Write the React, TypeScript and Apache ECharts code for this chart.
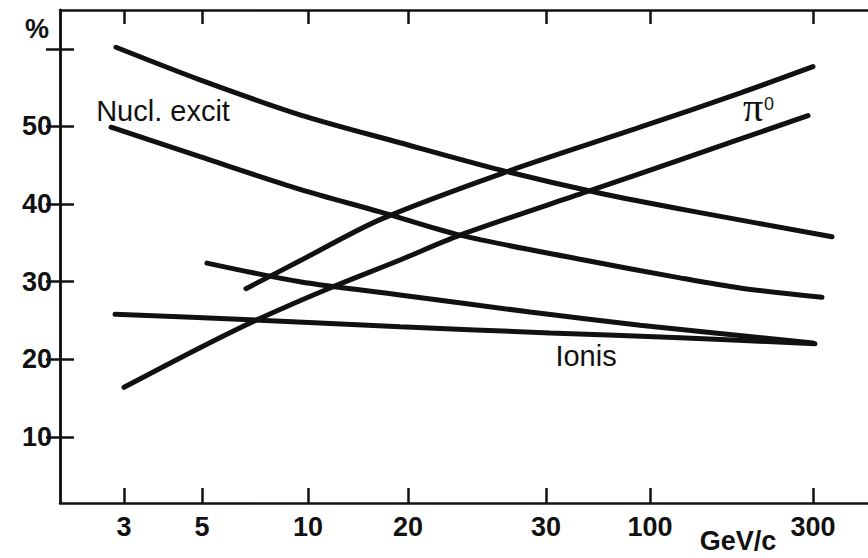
import React, { useEffect, useRef } from "react";
import * as echarts from "echarts";

// X axis: the figure's momentum axis (GeV/c) is drawn on a non-uniform scale;
// positions are expressed in axis units 0..100 across the frame.
const tickLabels = ["3", "5", "10", "20", "30", "100", "300"];
const tickPositions = [7.84, 17.4, 30.39, 42.65, 59.56, 72.3, 92.28];

const yTickValues = [10, 20, 30, 40, 50, 60];
const yLabelValues = [10, 20, 30, 40, 50];

// Nuclear excitation (upper curve)
const nuclUpperX = [6.86, 17.16, 29.41, 41.67, 53.92, 66.18, 78.43, 94.61];
const nuclUpperY = [60.2, 56.0, 51.5, 47.9, 44.4, 41.4, 38.9, 35.8];

// Nuclear excitation (lower curve)
const nuclLowerX = [6.25, 17.16, 29.41, 39.22, 49.02, 63.73, 75.98, 83.33, 93.38];
const nuclLowerY = [49.9, 46.1, 41.9, 39.0, 36.0, 32.9, 30.5, 29.2, 28.0];

// Middle descending curve (from 5 GeV/c)
const midX = [18.01, 29.41, 41.67, 57.6, 71.08, 92.28];
const midY = [32.4, 30.0, 28.3, 26.1, 24.4, 22.1];

// Ionisation
const ionisX = [6.74, 23.28, 41.67, 60.05, 75.98, 92.52];
const ionisY = [25.8, 25.1, 24.2, 23.4, 22.8, 22.0];

// pi0 (upper curve)
const pi0UpperX = [22.79, 29.41, 39.22, 54.29, 71.08, 83.33, 92.28];
const pi0UpperY = [29.1, 32.7, 38.0, 44.0, 49.9, 54.3, 57.7];

// pi0 (lower curve)
const pi0LowerX = [7.84, 17.16, 24.14, 33.09, 41.67, 49.02, 64.58, 75.98, 91.67];
const pi0LowerY = [16.4, 21.5, 25.1, 29.2, 32.8, 36.0, 41.6, 45.7, 51.4];

const curves: { name: string; x: number[]; y: number[] }[] = [
  { name: "Nucl. excit (upper)", x: nuclUpperX, y: nuclUpperY },
  { name: "Nucl. excit (lower)", x: nuclLowerX, y: nuclLowerY },
  { name: "Middle", x: midX, y: midY },
  { name: "Ionis", x: ionisX, y: ionisY },
  { name: "π0 (upper)", x: pi0UpperX, y: pi0UpperY },
  { name: "π0 (lower)", x: pi0LowerX, y: pi0LowerY },
];

const INK = "#111";
const SANS = "'Liberation Sans', Arial, Helvetica, sans-serif";

export default function App() {
  const ref = useRef<HTMLDivElement>(null);

  useEffect(() => {
    if (!ref.current) return;
    const chart = echarts.init(ref.current, null, { renderer: "svg" });

    const axisLine = { show: true, lineStyle: { color: INK, width: 2.5 } };
    const tickStyle = { color: INK, width: 2.5 };

    const xLabelFor = (v: number) => {
      const i = tickPositions.findIndex((p) => Math.abs(p - v) < 1e-6);
      return i >= 0 ? tickLabels[i] : "";
    };

    chart.setOption({
      animation: false,
      backgroundColor: "#fff",
      grid: {
        left: 60,
        right: -8,
        top: 10,
        bottom: 55,
        containLabel: false,
        outerBoundsMode: "none",
      },
      xAxis: [
        {
          type: "value",
          position: "bottom",
          min: 0,
          max: 100,
          axisLine,
          splitLine: { show: false },
          axisTick: {
            show: true,
            inside: true,
            length: 15,
            lineStyle: tickStyle,
            customValues: tickPositions,
          },
          axisLabel: {
            show: true,
            margin: 10,
            customValues: tickPositions,
            formatter: (v: number) => xLabelFor(v),
            color: INK,
            fontSize: 27,
            fontWeight: "bold",
            fontFamily: SANS,
          },
        },
        {
          type: "value",
          position: "top",
          min: 0,
          max: 100,
          axisLine,
          splitLine: { show: false },
          axisTick: {
            show: true,
            inside: true,
            length: 14,
            lineStyle: tickStyle,
            customValues: tickPositions,
          },
          axisLabel: { show: false },
        },
      ],
      yAxis: [
        {
          type: "value",
          position: "left",
          min: 1.5,
          max: 65,
          axisLine,
          splitLine: { show: false },
          axisTick: {
            show: true,
            inside: true,
            length: 14,
            lineStyle: tickStyle,
            customValues: yTickValues,
          },
          axisLabel: {
            show: true,
            margin: 8,
            customValues: yLabelValues,
            color: INK,
            fontSize: 27,
            fontWeight: "bold",
            fontFamily: SANS,
          },
        },
        {
          type: "value",
          position: "right",
          min: 1.5,
          max: 65,
          axisLine,
          splitLine: { show: false },
          axisTick: {
            show: true,
            inside: true,
            length: 14,
            lineStyle: tickStyle,
            customValues: yTickValues,
          },
          axisLabel: { show: false },
        },
      ],
      series: curves.map((c) => ({
        type: "line",
        name: c.name,
        xAxisIndex: 0,
        yAxisIndex: 0,
        data: c.x.map((v, i) => [v, c.y[i]]),
        smooth: 0.3,
        showSymbol: false,
        silent: true,
        lineStyle: { color: INK, width: 5, cap: "round" },
      })),
      graphic: [
        {
          type: "text",
          x: 37,
          y: 29,
          style: {
            text: "%",
            align: "center",
            verticalAlign: "middle",
            fontSize: 27,
            fontWeight: "bold",
            fontFamily: SANS,
            fill: INK,
          },
        },
        {
          type: "text",
          x: 163,
          y: 111,
          style: {
            text: "Nucl. excit",
            align: "center",
            verticalAlign: "middle",
            fontSize: 29,
            fontFamily: SANS,
            fill: INK,
          },
        },
        {
          type: "text",
          x: 586,
          y: 356,
          style: {
            text: "Ionis",
            align: "center",
            verticalAlign: "middle",
            fontSize: 29,
            fontFamily: SANS,
            fill: INK,
          },
        },
        {
          type: "text",
          x: 753,
          y: 107,
          style: {
            text: "π",
            align: "center",
            verticalAlign: "middle",
            fontSize: 40,
            fontFamily: "'Liberation Serif', 'DejaVu Serif', serif",
            fill: INK,
          },
        },
        {
          type: "text",
          x: 769,
          y: 104,
          style: {
            text: "0",
            align: "center",
            verticalAlign: "middle",
            fontSize: 18,
            fontFamily: SANS,
            fill: INK,
          },
        },
        {
          type: "text",
          x: 738,
          y: 541,
          style: {
            text: "GeV/c",
            align: "center",
            verticalAlign: "middle",
            fontSize: 27,
            fontWeight: "bold",
            fontFamily: SANS,
            fill: INK,
          },
        },
      ],
    });

    return () => chart.dispose();
  }, []);

  return (
    <div
      ref={ref}
      style={{ position: "fixed", left: 0, top: 0, width: 868, height: 558, background: "#fff" }}
    />
  );
}
